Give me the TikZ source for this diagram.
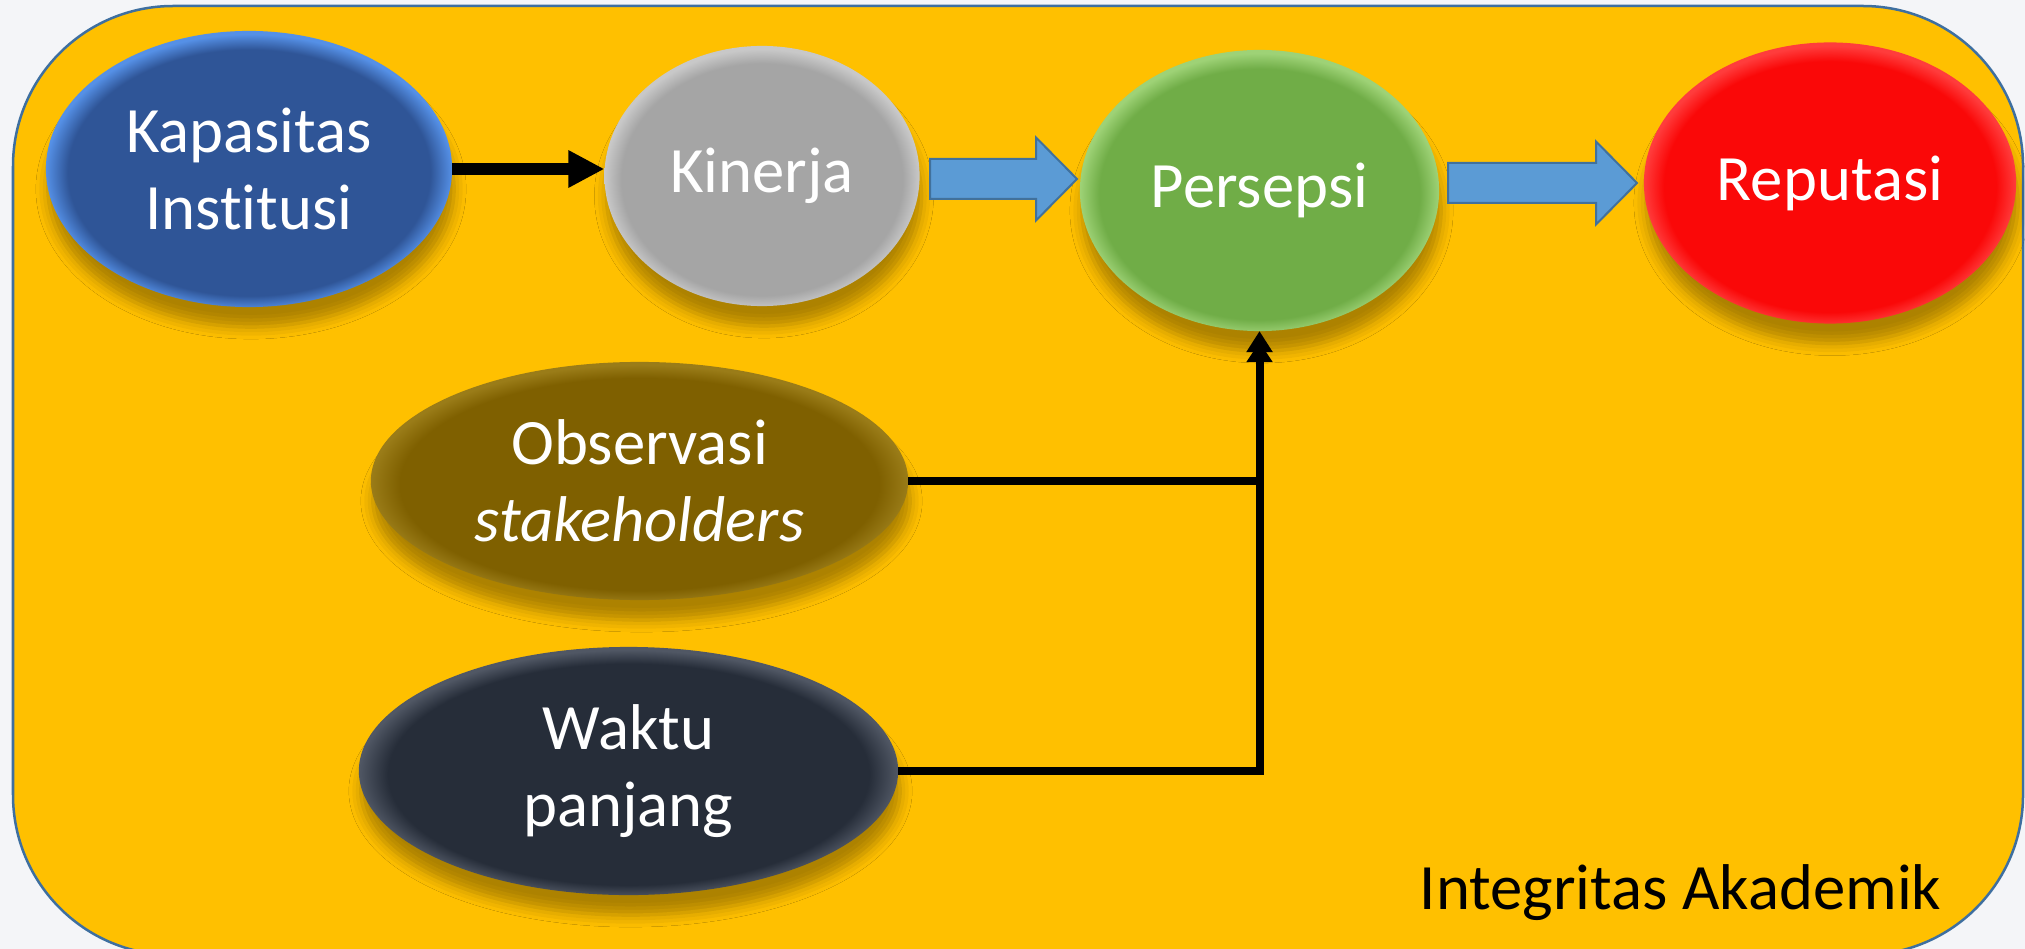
\documentclass[tikz,border=0pt]{standalone}
\usepackage{fontspec}
\setmainfont{Carlito}[Ligatures={NoCommon,NoContextual}]
\usetikzlibrary{shapes.geometric,arrows.meta,shadows.blur,calc}
\definecolor{bgc}{HTML}{F4F5F8}
\definecolor{panel}{HTML}{FFC000}
\definecolor{panelline}{HTML}{3E6FA0}
\definecolor{kapmain}{HTML}{2F5597}
\definecolor{kapedge}{HTML}{5590E6}
\definecolor{kinmain}{HTML}{A5A5A5}
\definecolor{kinedge}{HTML}{C8C8C8}
\definecolor{permain}{HTML}{70AD47}
\definecolor{peredge}{HTML}{9ED276}
\definecolor{repmain}{HTML}{FA0808}
\definecolor{repedge}{HTML}{FF3C3C}
\definecolor{obsmain}{HTML}{7F6000}
\definecolor{obsedge}{HTML}{9A7C18}
\definecolor{wakmain}{HTML}{262D39}
\definecolor{wakedge}{HTML}{505764}
\definecolor{blkfill}{HTML}{5B9BD5}
\definecolor{blkline}{HTML}{41719C}
\newcommand\mkbev[3]{\pgfdeclareradialshading{#1}{\pgfpoint{0bp}{-1.2bp}}{color(0bp)=(#2); color(22.3bp)=(#2); color(25bp)=(#3); color(50bp)=(#3)}}
\mkbev{bevkap}{kapmain}{kapedge}
\mkbev{bevkin}{kinmain}{kinedge}
\mkbev{bevper}{permain}{peredge}
\mkbev{bevrep}{repmain}{repedge}
\mkbev{bevobs}{obsmain}{obsedge}
\mkbev{bevwak}{wakmain}{wakedge}
\newcommand\bubfont{\fontsize{18.4}{22}\selectfont}
\newcommand\blockarr[3]{%
  \draw[blockstyle] (#1,{#3-20}) -- ({#2-41},{#3-20}) -- ({#2-41},{#3-41.5}) -- (#2,#3)
    -- ({#2-41},{#3+41.5}) -- ({#2-41},{#3+20}) -- (#1,{#3+20}) -- cycle;}
\begin{document}
\begin{tikzpicture}[x=0.01cm,y=-0.01cm,
  bubble/.style={ellipse, inner sep=0pt, outer sep=0pt, text=white, font=\bubfont, align=center,
    blur shadow={shadow xshift=0.02cm, shadow yshift=-0.2cm, shadow blur radius=0.12cm, shadow opacity=32}},
  blockstyle/.style={fill=blkfill, draw=blkline, line width=0.02cm, line join=miter},
  conn/.style={draw=black, line join=miter}]
\useasboundingbox (0,0) rectangle (2025,949);
\fill[bgc] (0,0) rectangle (2025,949);
\draw[fill=panel, draw=panelline, line width=0.025cm, rounded corners=1.6cm] (13,6) rectangle (2023,955);

\node[bubble, shading=bevkap, minimum width=4.06cm, minimum height=2.76cm] (kap) at (249,169) {Kapasitas\\Institusi};
\node[bubble, shading=bevkin, minimum width=3.15cm, minimum height=2.60cm] (kin) at (762,176) {Kinerja};
\node[bubble, shading=bevper, minimum width=3.59cm, minimum height=2.81cm] (per) at (1259.5,190.5) {Persepsi};
\node[bubble, shading=bevrep, minimum width=3.72cm, minimum height=2.81cm] (rep) at (1830,183) {Reputasi};
\node[bubble, shading=bevobs, minimum width=5.37cm, minimum height=2.38cm] (obs) at (639.5,481) {Observasi\\\textit{stakeholders}};
\node[bubble, shading=bevwak, minimum width=5.39cm, minimum height=2.48cm] (wak) at (628.5,771) {Waktu\\panjang};

\node[anchor=base west, inner sep=0pt, font=\bubfont, text=black] (ia) at (1419,909) {Integritas Akademik};

\draw[conn, line width=0.12cm, -{Triangle[length=0.36cm,width=0.35cm]}] (kap.east) -- (kap.east -| kin.west);
\blockarr{930}{1077}{179}
\blockarr{1448}{1637}{183}
\draw[conn, line width=0.08cm] (obs.east) -- (obs.east -| per.south);
\draw[conn, line width=0.08cm, -{Triangle[length=0.2cm,width=0.25cm,sep=-0.1cm] Triangle[length=0.21cm,width=0.25cm]}] (wak.east) -| (per.south);
\end{tikzpicture}
\end{document}
